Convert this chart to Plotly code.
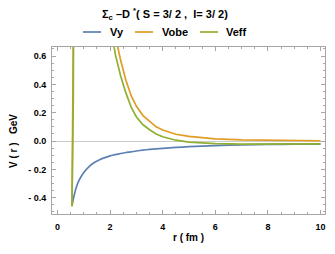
import plotly.graph_objects as go

# ---- data ----
r = [0.55, 0.6, 0.65, 0.7, 0.8, 0.9, 1.0, 1.2, 1.4, 1.6, 1.8, 2.0, 2.1, 2.2, 2.4, 2.6, 2.8,
     3.0, 3.25, 3.5, 3.75, 4.0, 4.5, 5.0, 5.5, 6.0, 7.0, 8.0, 9.0, 10.0]
Vy = [-0.46, -0.41, -0.37, -0.335, -0.285, -0.25, -0.222, -0.18, -0.152, -0.132, -0.117, -0.105,
      -0.100, -0.096, -0.088, -0.081, -0.076, -0.070, -0.064, -0.059, -0.055, -0.051, -0.045,
      -0.040, -0.036, -0.032, -0.027, -0.024, -0.022, -0.021]
Vobe = [-0.46, 0.75, 3.5, 4.2, 4.5, 4.3, 3.9, 3.0, 2.3, 1.8, 1.35, 1.0, 0.86, 0.74, 0.57, 0.43,
        0.32, 0.245, 0.18, 0.14, 0.10, 0.078, 0.048, 0.033, 0.023, 0.016, 0.009, 0.005, 0.003, 0.002]
Veff = [-0.46, 0.30, 3.1, 3.9, 4.2, 4.05, 3.68, 2.82, 2.15, 1.67, 1.23, 0.895, 0.72, 0.61, 0.46,
        0.34, 0.24, 0.17, 0.115, 0.08, 0.05, 0.030, 0.006, -0.007, -0.014, -0.018, -0.021,
        -0.021, -0.021, -0.020]

series_names = ["Vy", "Vobe", "Veff"]
colors = ["#5E81B5", "#E19C24", "#8FB032"]

x_ticks = [0, 2, 4, 6, 8, 10]
x_ticktext = ["0", "2", "4", "6", "8", "10"]
y_ticks = [-0.4, -0.2, 0.0, 0.2, 0.4, 0.6]
y_ticktext = ["- 0.4", "- 0.2", "0.0", "0.2", "0.4", "0.6"]

title_text = "Σ<sub>c</sub> –D <sup>*</sup>( S = 3/ 2 ,  I= 3/ 2)"
x_title = "r ( fm )"
y_title = "V ( r )   GeV"

# ---- layout geometry (pixels) ----
W, H = 335, 254
L, R, T, B = 52, 10, 47, 40
PW, PH = W - L - R, H - T - B


def px(xp):
    return (xp - L) / PW


def py(yp):
    return (H - B - yp) / PH


FONT = "Liberation Sans"
frame = "#a6a6a6"

fig = go.Figure()
for name, vals, col in zip(series_names, [Vy, Vobe, Veff], colors):
    fig.add_trace(go.Scatter(
        x=r, y=vals, mode="lines", name=name,
        line=dict(color=col, width=1.7,
                  shape="spline" if name == "Vy" else "linear", smoothing=0.6),
    ))

fig.update_layout(
    width=W, height=H,
    margin=dict(l=L, r=R, t=T, b=B),
    plot_bgcolor="white", paper_bgcolor="white",
    showlegend=False,
    font=dict(family=FONT, color="black"),
)
fig.update_xaxes(
    range=[-0.21, 10.17], tickmode="array", tickvals=x_ticks,
    ticktext=[f"<b>{t}</b>" for t in x_ticktext],
    ticks="inside", ticklen=4, tickcolor=frame, tickwidth=1,
    showline=True, linecolor=frame, linewidth=1, mirror="ticks",
    showgrid=False, zeroline=False,
    tickfont=dict(size=9, family=FONT, color="black"),
    ticklabelstandoff=4,
    minor=dict(tickmode="linear", tick0=0, dtick=0.5, ticks="inside",
               ticklen=2, tickcolor=frame, showgrid=False),
)
fig.update_yaxes(
    range=[-0.515, 0.664], tickmode="array", tickvals=y_ticks,
    ticktext=[f"<b>{t}</b>" for t in y_ticktext],
    ticks="inside", ticklen=4, tickcolor=frame, tickwidth=1,
    showline=True, linecolor=frame, linewidth=1, mirror="ticks",
    showgrid=False, zeroline=True, zerolinecolor="#cccccc", zerolinewidth=1,
    tickfont=dict(size=9, family=FONT, color="black"),
    ticklabelstandoff=3,
    minor=dict(tickmode="linear", tick0=0, dtick=0.05, ticks="inside",
               ticklen=2, tickcolor=frame, showgrid=False),
)

ann = []
ann.append(dict(text=f"<b>{title_text}</b>", x=px(165), y=py(14), xref="paper", yref="paper",
                showarrow=False, xanchor="center", yanchor="middle",
                font=dict(size=11, family=FONT, color="black")))
ann.append(dict(text=f"<b>{x_title}</b>", x=px(188), y=py(237), xref="paper", yref="paper",
                showarrow=False, xanchor="center", yanchor="middle",
                font=dict(size=10, family=FONT, color="black")))
ann.append(dict(text=f"<b>{y_title}</b>", x=px(13), y=py(141), xref="paper", yref="paper",
                showarrow=False, xanchor="center", yanchor="middle", textangle=-90,
                font=dict(size=10, family=FONT, color="black")))

# legend drawn manually (line sample + label)
leg_lines = [(83, 101), (135, 153), (200, 218)]
leg_text_x = [108, 160, 224]
leg_y = 32
shapes = []
for (x0, x1), tx, name, col in zip(leg_lines, leg_text_x, series_names, colors):
    shapes.append(dict(type="line", xref="paper", yref="paper",
                       x0=px(x0), x1=px(x1), y0=py(leg_y), y1=py(leg_y),
                       line=dict(color=col, width=1.7)))
    ann.append(dict(text=f"<b>{name}</b>", x=px(tx), y=py(leg_y), xref="paper", yref="paper",
                    showarrow=False, xanchor="left", yanchor="middle",
                    font=dict(size=11, family=FONT, color="black")))

fig.update_layout(annotations=ann, shapes=shapes)
fig.write_html("out.html", config={"displayModeBar": False},
               post_script="document.body.style.margin='0px';")
